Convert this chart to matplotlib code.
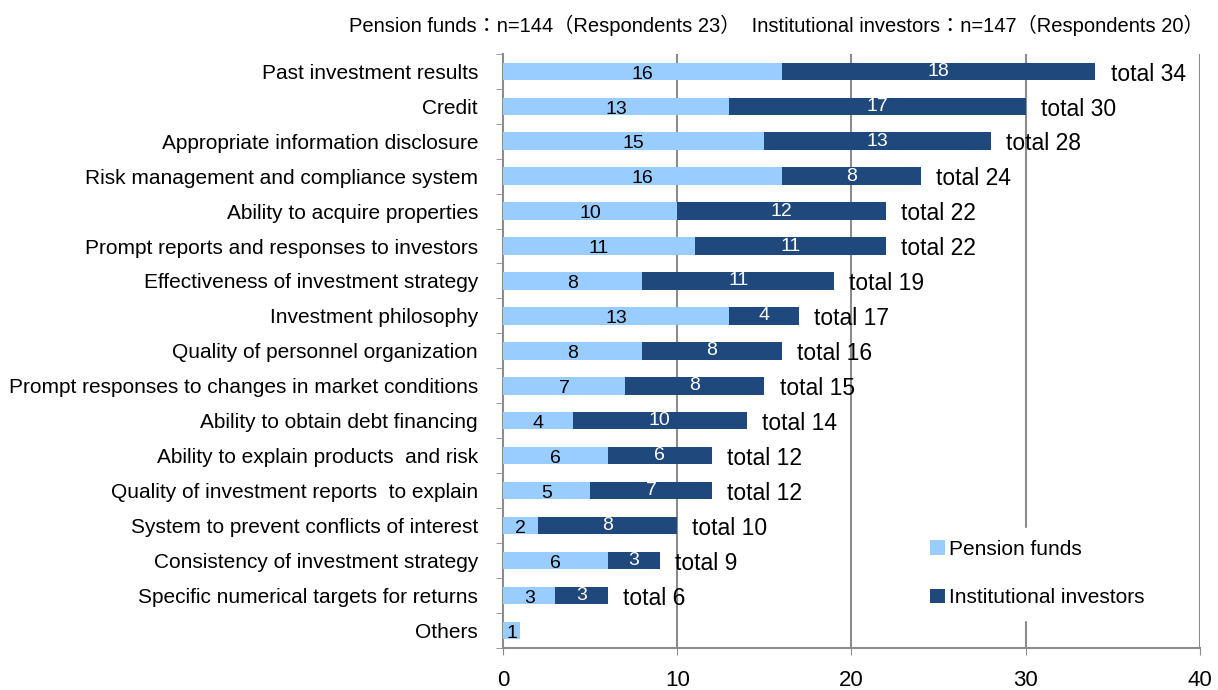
import matplotlib
matplotlib.use("Agg")
import matplotlib.pyplot as plt
import numpy as np

# Data
categories = [
    "Past investment results",
    "Credit",
    "Appropriate information disclosure",
    "Risk management and compliance system",
    "Ability to acquire properties",
    "Prompt reports and responses to investors",
    "Effectiveness of investment strategy",
    "Investment philosophy",
    "Quality of personnel organization",
    "Prompt responses to changes in market conditions",
    "Ability to obtain debt financing",
    "Ability to explain products  and risk",
    "Quality of investment reports  to explain",
    "System to prevent conflicts of interest",
    "Consistency of investment strategy",
    "Specific numerical targets for returns",
    "Others",
]
pension = [16, 13, 15, 16, 10, 11, 8, 13, 8, 7, 4, 6, 5, 2, 6, 3, 1]
institutional = [18, 17, 13, 8, 12, 11, 11, 4, 8, 8, 10, 6, 7, 8, 3, 3, 0]
series_names = ["Pension funds", "Institutional investors"]
header = "Pension funds：n=144（Respondents 23）  Institutional investors：n=147（Respondents 20）"

light = "#99CCFF"
dark = "#1F497D"
grid_col = "#8C8C8C"
font = "Liberation Sans"

fig = plt.figure(figsize=(12.18, 6.9), dpi=100)
ax = fig.add_axes([0.413, 0.061, 0.572, 0.861])

y = np.arange(len(categories))
p = np.array(pension)
q = np.array(institutional)
bh = 0.5

ax.barh(y, p, height=bh, color=light, label=series_names[0], zorder=3)
ax.barh(y, q, left=p, height=bh, color=dark, label=series_names[1], zorder=3)

for i in range(len(categories)):
    if p[i] > 0:
        ax.text(p[i] / 2, y[i] + 0.08, str(p[i]), ha="center", va="center",
                fontsize=14, color="black", family=font, zorder=4)
    if q[i] > 0:
        ax.text(p[i] + q[i] / 2, y[i], str(q[i]), ha="center", va="center",
                fontsize=14, color="white", family=font, zorder=4)
    tot = p[i] + q[i]
    if q[i] > 0:
        ax.annotate(f"total {tot}", xy=(tot, y[i]), xytext=(11, -2),
                    textcoords="offset points", ha="left", va="center",
                    fontsize=16.5, family=font)

ax.set_xlim(0, 40)
ax.set_ylim(len(categories) - 0.5, -0.5)
ax.set_xticks([0, 10, 20, 30, 40])
ax.set_xticklabels(["0", "10", "20", "30", "40"], fontsize=16, family=font)
ax.tick_params(axis="x", direction="out", length=5, pad=11, color=grid_col)

ax.set_yticks(y)
ax.set_yticklabels(categories, fontsize=15, family=font)
ax.set_yticks(np.arange(len(categories) + 1) - 0.5, minor=True)
ax.tick_params(axis="y", which="major", length=0, pad=18)
ax.tick_params(axis="y", which="minor", length=5, color=grid_col)

for v in [10, 20, 30, 40]:
    ax.axvline(v, color=grid_col, linewidth=1.5, zorder=1)

for s in ["top", "right"]:
    ax.spines[s].set_visible(False)
for s in ["left", "bottom"]:
    ax.spines[s].set_color(grid_col)
    ax.spines[s].set_linewidth(1.5)

leg = ax.legend(loc="center left", bbox_to_anchor=(0.58, 0.125), frameon=True,
                facecolor="white", edgecolor="white", framealpha=1,
                prop={"family": font, "size": 15}, handlelength=0.7,
                handleheight=0.7, handletextpad=0.2, labelspacing=1.4,
                borderpad=0.6)
leg.set_zorder(5)

fig.text(0.988, 0.963, header, ha="right", va="center", fontsize=14.5,
         family=["Liberation Sans", "Noto Sans CJK JP"])

fig.savefig("out.png", dpi=100)
